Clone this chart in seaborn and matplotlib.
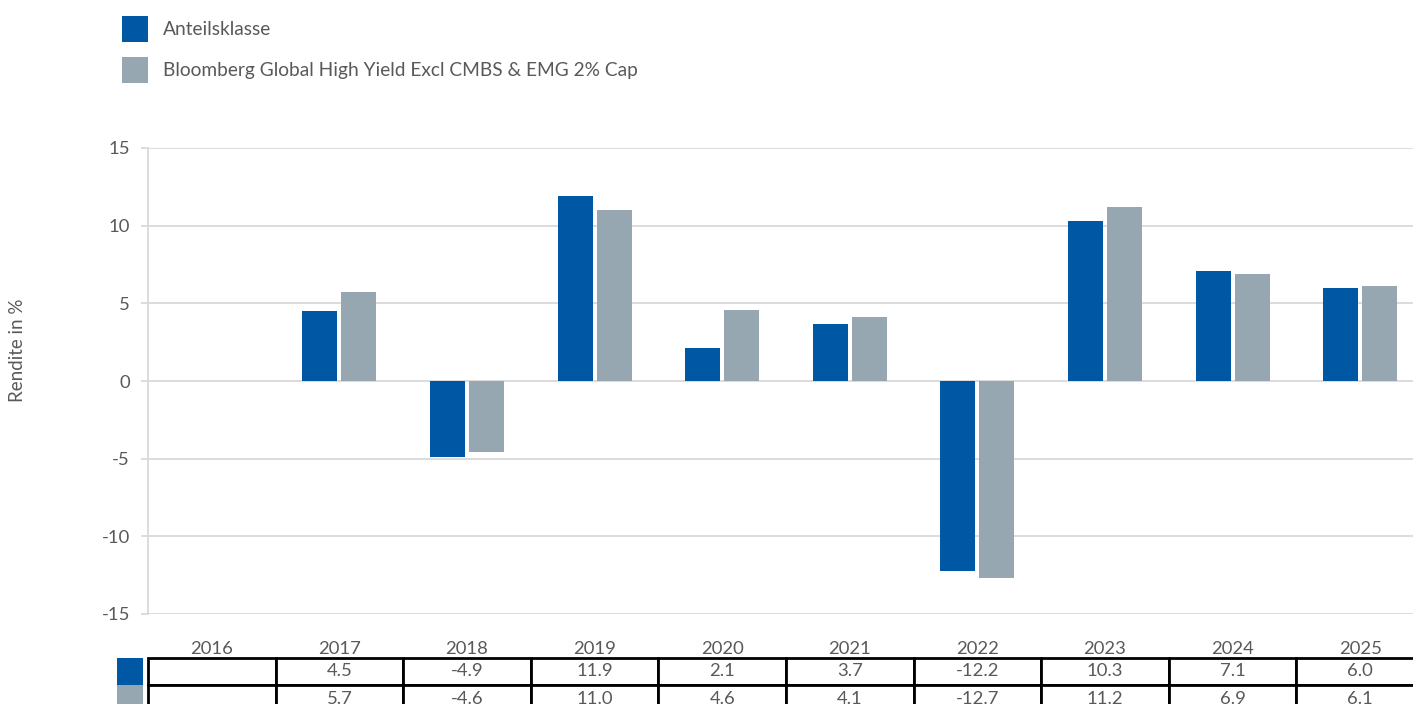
import numpy as np
import pandas as pd
import matplotlib
matplotlib.use("Agg")
import matplotlib.pyplot as plt
from matplotlib.patches import Rectangle
import seaborn as sns

# Annual returns in percent
years = ["2016", "2017", "2018", "2019", "2020", "2021", "2022", "2023", "2024", "2025"]
fund = [np.nan, 4.5, -4.9, 11.9, 2.1, 3.7, -12.2, 10.3, 7.1, 6.0]
benchmark = [np.nan, 5.7, -4.6, 11.0, 4.6, 4.1, -12.7, 11.2, 6.9, 6.1]
series_names = ["Anteilsklasse", "Bloomberg Global High Yield Excl CMBS & EMG 2% Cap"]
colors = ["#0058A5", "#97A7B2"]
y_ticks = [-15, -10, -5, 0, 5, 10, 15]

sns.set_theme(style="white")
plt.rcParams["font.family"] = ["Lato", "DejaVu Sans"]
text_color = "#595959"
grid_color = "#D9D9D9"
fs = 13.3

df = pd.DataFrame({
    "Jahr": years * 2,
    "Rendite": fund + benchmark,
    "Serie": [series_names[0]] * len(years) + [series_names[1]] * len(years),
})

W, H = 1413, 704
fig = plt.figure(figsize=(W / 100, H / 100), dpi=100)
ax = fig.add_axes([148 / W, (H - 614) / H, 1276 / W, 466 / H])

sns.barplot(data=df, x="Jahr", y="Rendite", hue="Serie", order=years,
            hue_order=series_names, palette=colors, width=0.61, gap=0.1,
            linewidth=0, saturation=1, ax=ax, zorder=3)

ax.set_xlim(-0.5, len(years) - 0.5)
ax.set_ylim(-15, 15)
ax.set_yticks(y_ticks)
ax.set_yticklabels([str(t) for t in y_ticks])
ax.grid(axis="y", color=grid_color, linewidth=1.3, zorder=0)
ax.set_axisbelow(True)
for side in ["top", "right", "bottom"]:
    ax.spines[side].set_visible(False)
ax.spines["left"].set_color(grid_color)
ax.spines["left"].set_linewidth(1.3)
ax.tick_params(axis="y", left=True, length=5, width=1.3, color=grid_color,
               labelsize=fs, labelcolor=text_color, pad=8)
ax.tick_params(axis="x", bottom=False, length=0, labelsize=fs,
               labelcolor=text_color, pad=19.5)
ax.set_xlabel("")
ax.set_ylabel("")

fig.text(18 / W, 1 - 350 / H, "Rendite in %", rotation=90, ha="center",
         va="center", fontsize=13.5, color=text_color)

# Legend at the top left
lfs = 13.8
lfs_px = lfs * 100 / 72
handles, labels = ax.get_legend_handles_labels()
ax.legend(handles, labels, loc="upper left", bbox_to_anchor=(122 / W, 1 - 16 / H),
          bbox_transform=fig.transFigure, frameon=False, fontsize=lfs,
          handlelength=26 / lfs_px, handleheight=1.7, handletextpad=0.78,
          labelspacing=0.78, borderpad=0, borderaxespad=0, labelcolor=text_color)

# Data table below the axis
def fmt(v):
    return "" if np.isnan(v) else f"{v:.1f}"

cell_text = [[fmt(v) for v in fund], [fmt(v) for v in benchmark]]
top = (614 - 658) / 466
row_h = 27 / 466
tbl = ax.table(cellText=cell_text, cellLoc="center",
               bbox=[0, top - 2 * row_h, 1, 2 * row_h])
tbl.auto_set_font_size(False)
for (r, c), cell in tbl.get_celld().items():
    cell.set_edgecolor("black")
    cell.set_linewidth(2)
    cell.get_text().set_fontsize(fs)
    cell.get_text().set_color(text_color)

# Colour keys beside the table rows
for i, col in enumerate(colors):
    y0 = 658 + 27 * (i + 1)
    fig.patches.append(Rectangle((117 / W, 1 - y0 / H), 26 / W, 27 / H,
                                 transform=fig.transFigure, facecolor=col,
                                 edgecolor="none"))

fig.savefig("out.png", dpi=100)
